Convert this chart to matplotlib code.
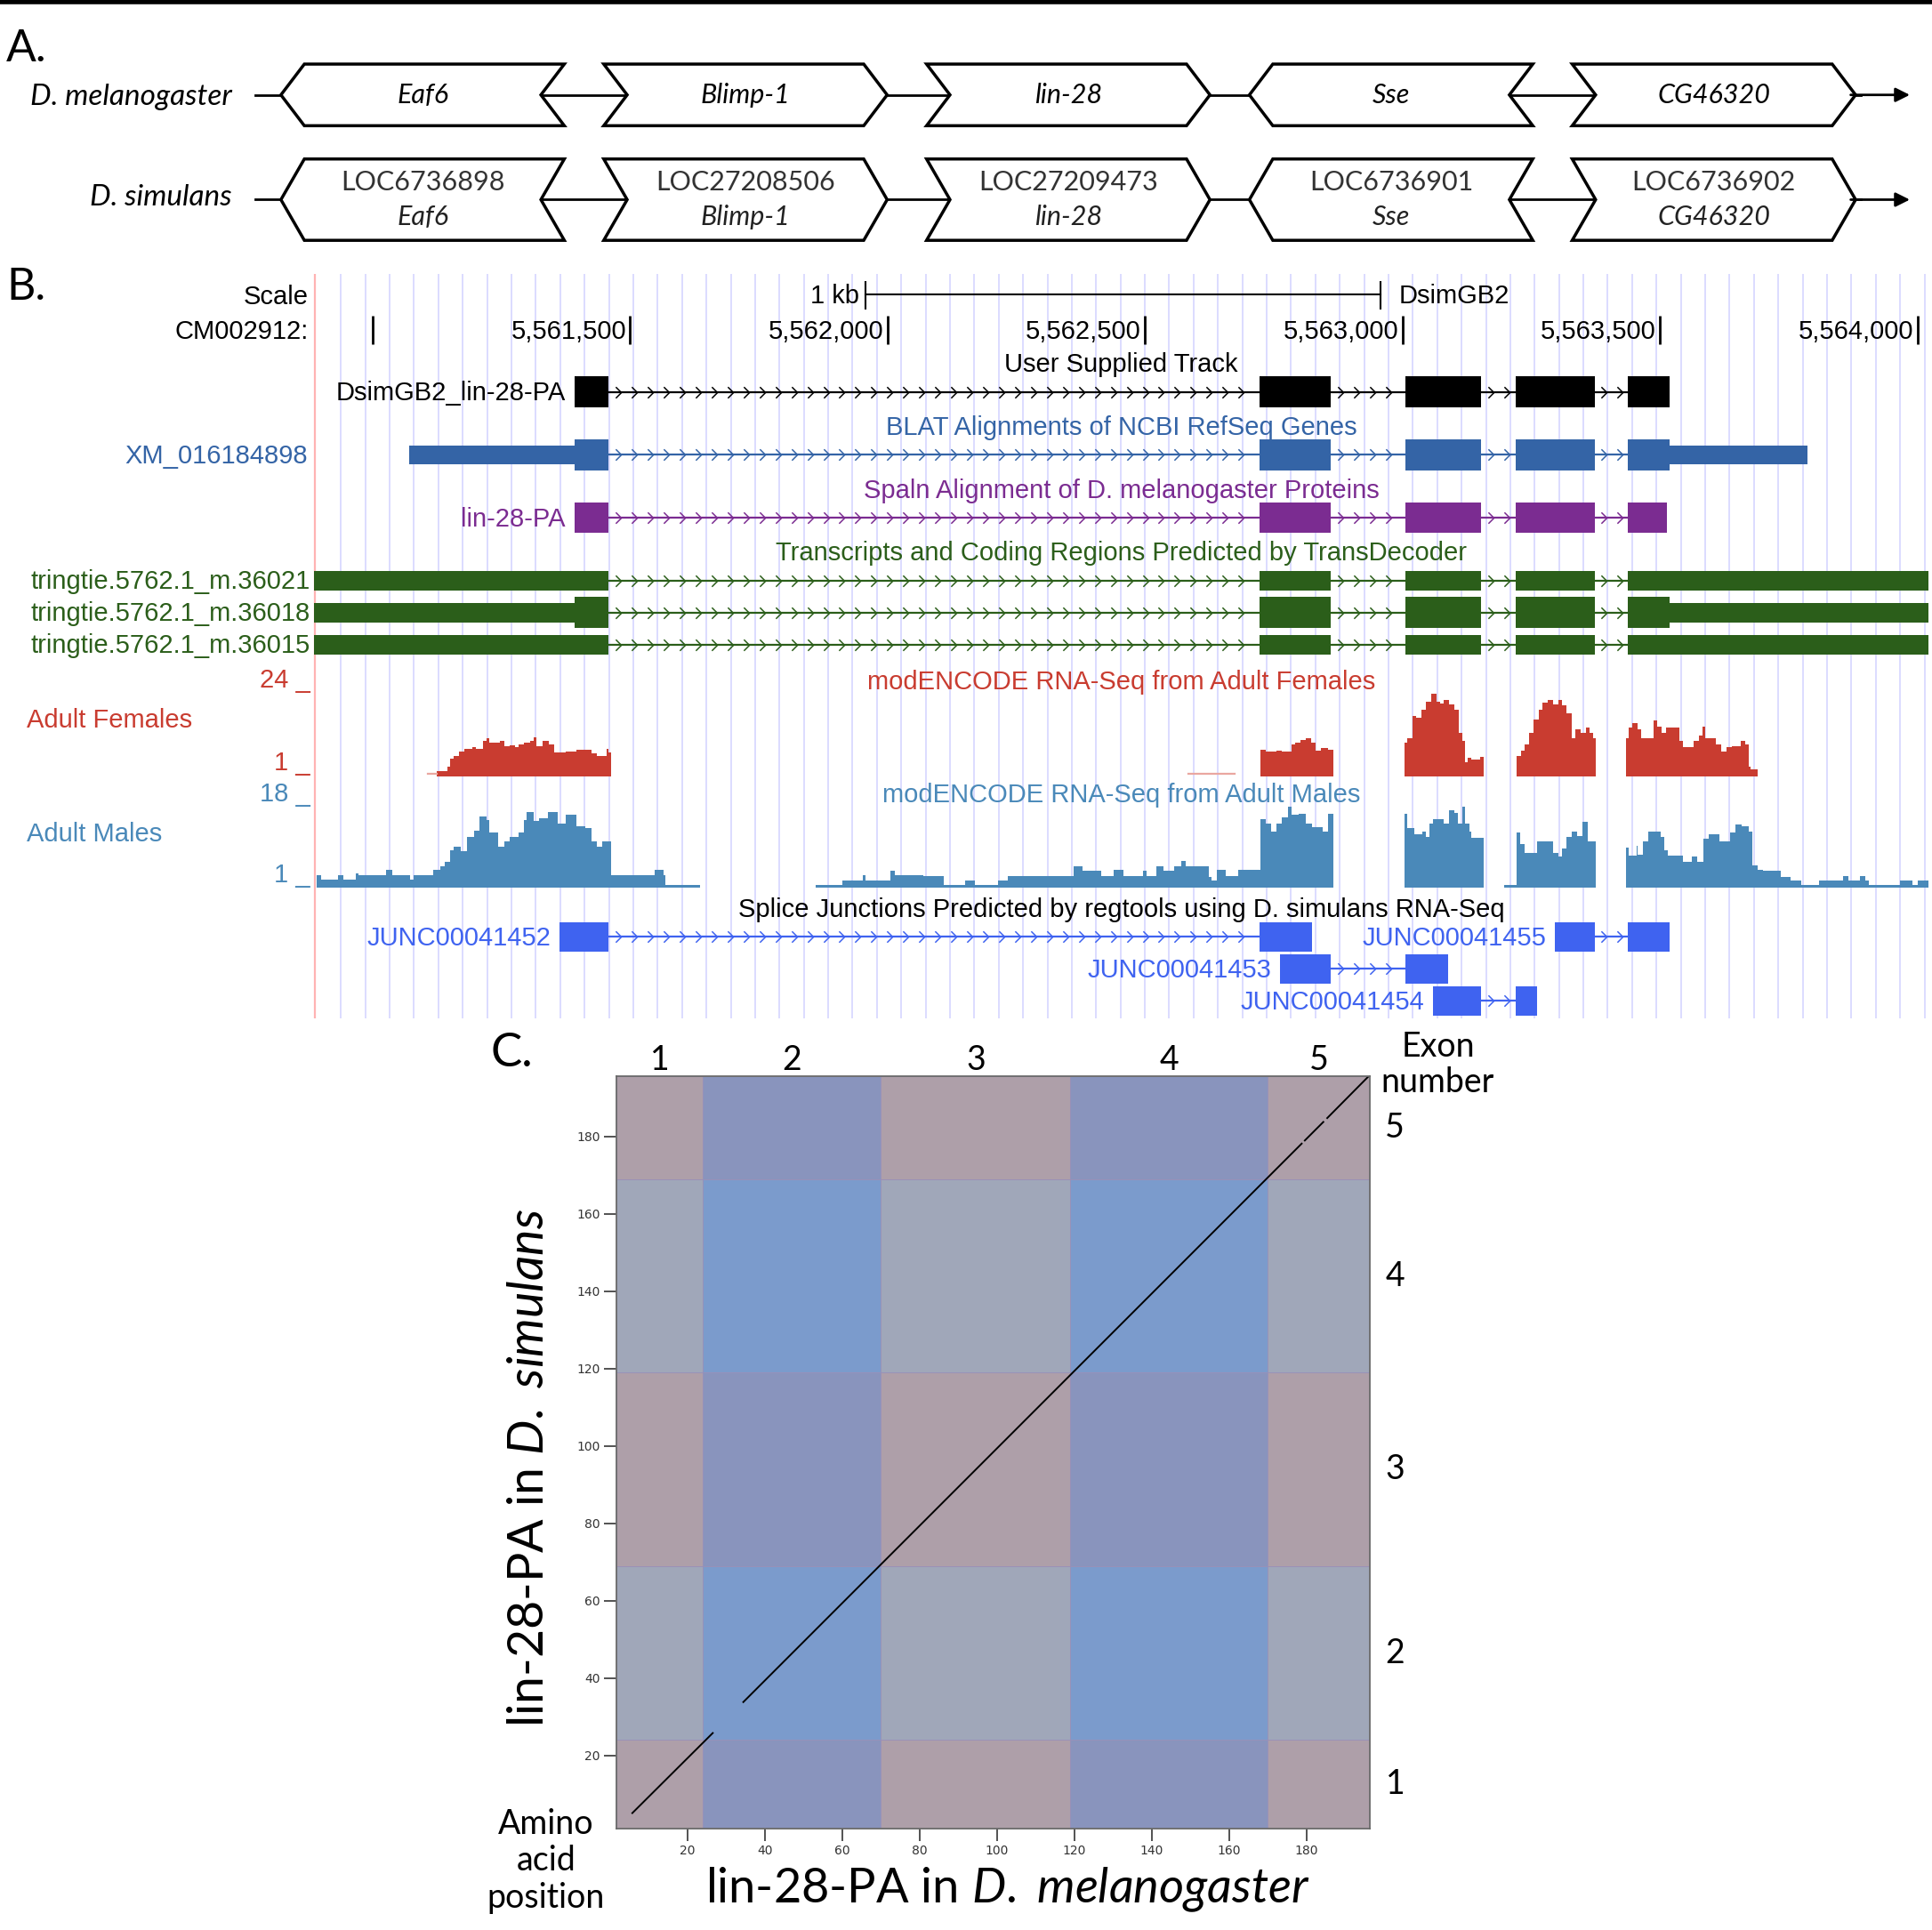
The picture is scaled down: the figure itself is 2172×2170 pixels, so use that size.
import numpy as np
import matplotlib
matplotlib.use('Agg')
import matplotlib.pyplot as plt
from matplotlib.patches import Polygon, Rectangle
from matplotlib.path import Path
from matplotlib.transforms import blended_transform_factory

plt.rcParams['mathtext.fontset'] = 'custom'
plt.rcParams['mathtext.rm'] = 'Lato'
plt.rcParams['mathtext.it'] = 'Lato:italic'

# ---------------- data ----------------
# panel A: gene neighbourhood
mel_genes = ['Eaf6', 'Blimp-1', 'lin-28', 'Sse', 'CG46320']
sim_loci = ['LOC6736898', 'LOC27208506', 'LOC27209473', 'LOC6736901', 'LOC6736902']
gene_strand = [-1, 1, 1, -1, 1]

# panel B: genome browser (positions on CM002912 minus 5,560,000)
OFFSET = 5560000
view = (887, 4021)
ruler_ticks = [1000, 1500, 2000, 2500, 3000, 3500, 4000]
ruler_labelled = [False, True, True, True, True, True, True]
scalebar_start, scalebar_len = 1957, 1000

exon_starts = [1392, 2722, 3005, 3220, 3438]
exon_ends = [1459, 2861, 3153, 3373, 3519]
spaln_ends = [1459, 2861, 3153, 3373, 3514]
xm_tx = (1072, 3787)
td_first_start, td_last_end = 800, 4100
cds = (1392, 3519)

junctions = ['JUNC00041452', 'JUNC00041453', 'JUNC00041454', 'JUNC00041455']
junc_blocks = [[(1364, 1459), (2722, 2825)],
               [(2763, 2861), (3005, 3088)],
               [(3060, 3153), (3220, 3261)],
               [(3296, 3373), (3438, 3519)]]
junc_row = [0, 1, 2, 0]

# RNA-seq coverage, step edges and values
fem_edges = [
    [1125, 1145, 1151, 1158, 1168, 1178, 1194, 1201, 1214, 1221, 1227, 1237, 1247, 1257, 1267, 1277,
     1284, 1294, 1307, 1313, 1318, 1331, 1343, 1353, 1376, 1396, 1426, 1436, 1454, 1459, 1464],
    [2724, 2734, 2755, 2765, 2785, 2792, 2802, 2812, 2822, 2832, 2842, 2855, 2865],
    [3004, 3009, 3019, 3026, 3036, 3046, 3056, 3066, 3073, 3080, 3090, 3100, 3110, 3117, 3122, 3127,
     3134, 3151, 3157],
    [3221, 3231, 3238, 3245, 3255, 3265, 3272, 3282, 3292, 3302, 3309, 3319, 3329, 3336, 3346, 3356,
     3363, 3370, 3375],
    [3434, 3440, 3447, 3457, 3464, 3488, 3494, 3504, 3511, 3521, 3538, 3545, 3565, 3575, 3582, 3587,
     3609, 3619, 3629, 3639, 3656, 3666, 3673, 3676, 3690]]
fem_vals = [
    [1.4, 2.5, 4.4, 5.1, 6.2, 7.0, 7.4, 7.0, 8.9, 9.6, 8.5, 8.6, 8.9, 7.7, 7.9, 7.4, 8.1, 8.5, 8.9,
     10.0, 7.7, 8.9, 8.1, 6.1, 6.2, 6.8, 5.9, 5.1, 7.0, 6.1],
    [6.8, 6.2, 6.6, 6.2, 8.1, 8.5, 9.2, 9.6, 8.5, 6.6, 7.1, 6.8],
    [8.5, 9.6, 15.3, 14.9, 16.8, 19.0, 20.9, 19.0, 18.4, 19.4, 18.3, 16.8, 11.1, 8.9, 3.6, 4.7, 4.2, 5.0],
    [5.1, 6.6, 8.1, 11.1, 14.5, 16.8, 18.6, 19.4, 18.3, 19.4, 17.9, 16.0, 9.6, 11.9, 11.1, 12.3, 11.1, 9.6],
    [9.6, 12.3, 13.4, 11.9, 9.6, 14.1, 12.6, 11.1, 12.3, 12.4, 8.9, 7.4, 8.9, 10.4, 12.6, 9.6, 8.1,
     6.2, 7.4, 7.7, 8.9, 8.1, 2.5, 1.7]]
fem_faint = [(1107, 1125), (2585, 2675)]

male_edges = [
    [892, 900, 933, 943, 968, 973, 1026, 1038, 1073, 1080, 1118, 1132, 1141, 1151, 1158, 1171, 1184,
     1198, 1208, 1221, 1227, 1244, 1257, 1267, 1284, 1294, 1300, 1313, 1323, 1340, 1360, 1376, 1396,
     1413, 1426, 1436, 1446, 1464, 1548, 1565, 1568, 1637],
    [1860, 1912, 1952, 1958, 2005, 2015, 2069, 2110, 2150, 2170, 2214, 2234, 2362, 2378, 2415, 2439,
     2459, 2496, 2503, 2523, 2536, 2556, 2570, 2580, 2624, 2630, 2640, 2657, 2681, 2724, 2734, 2745,
     2755, 2765, 2778, 2785, 2798, 2812, 2825, 2845, 2855, 2865],
    [3004, 3009, 3023, 3039, 3046, 3053, 3060, 3080, 3090, 3100, 3107, 3117, 3122, 3130, 3134, 3157],
    [3198, 3221, 3228, 3238, 3262, 3292, 3302, 3309, 3319, 3329, 3339, 3349, 3360, 3375],
    [3434, 3440, 3454, 3457, 3467, 3478, 3491, 3501, 3508, 3515, 3545, 3562, 3572, 3585, 3595, 3616,
     3636, 3646, 3659, 3673, 3680, 3690, 3700, 3734, 3754, 3774, 3808, 3855, 3865, 3889, 3899, 3905,
     3966, 3990, 4000, 4023]]
male_vals = [
    [2.4, 1.6, 2.5, 1.6, 2.8, 2.4, 3.6, 2.4, 1.6, 2.4, 3.6, 4.3, 5.2, 7.6, 8.2, 7.3, 10.3, 11.5, 14.3,
     13.7, 11.1, 8.2, 9.4, 10.3, 11.1, 13.7, 15.2, 13.4, 14.0, 15.2, 13.0, 14.8, 12.4, 12.1, 9.4, 8.2,
     9.4, 2.4, 3.6, 2.4, 0.4],
    [0.4, 1.4, 2.5, 1.4, 3.3, 2.5, 2.3, 0.4, 1.4, 0.4, 1.4, 2.3, 4.3, 3.4, 2.3, 3.5, 2.3, 3.3, 2.3, 4.3,
     3.4, 4.3, 5.4, 4.3, 2.1, 1.4, 3.5, 2.3, 3.5, 13.9, 13.0, 11.4, 13.0, 14.2, 16.3, 14.8, 15.0, 13.0,
     12.3, 11.4, 15.0],
    [15.0, 12.0, 10.8, 11.4, 10.2, 13.0, 13.9, 13.0, 15.7, 15.1, 13.0, 16.3, 13.0, 11.4, 10.1],
    [0.4, 11.1, 8.7, 7.0, 9.3, 7.0, 6.3, 7.8, 10.2, 11.4, 10.5, 13.3, 9.3],
    [8.1, 6.4, 8.4, 6.6, 9.3, 11.3, 11.4, 10.2, 7.5, 6.4, 5.1, 6.2, 5.1, 9.9, 10.8, 9.3, 11.1, 12.7,
     12.4, 11.4, 4.5, 3.6, 3.3, 2.1, 1.4, 0.4, 1.4, 2.3, 1.4, 2.3, 1.4, 0.4, 1.4, 0.4, 1.4]]
fem_max, male_max = 24, 18

# panel C: dot plot of lin-28-PA, amino acid positions
mel_len, sim_len = 196.5, 195.7
mel_exon_bounds = [24, 70, 119, 170]
sim_exon_bounds = [24, 69, 119, 169]
dot_x0 = [5.7, 34.4, 179.6, 185.4]
dot_x1 = [26.5, 178.8, 184.4, 196.0]
dot_y0 = [5.1, 33.8, 179.0, 184.8]
dot_y1 = [25.8, 178.2, 183.8, 195.5]

# ---------------- layout ----------------
W, H = 1568, 1566
UCSC = ['Liberation Sans', 'DejaVu Sans']
AVN = ['Lato', 'DejaVu Sans']


def frac_rect(x0, y0, x1, y1):
    return [x0 / W, 1 - y1 / H, (x1 - x0) / W, (y1 - y0) / H]


fig = plt.figure(figsize=(21.72, 21.70), dpi=100)
axF = fig.add_axes([0, 0, 1, 1], zorder=10)
axF.set_xlim(0, W)
axF.set_ylim(H, 0)
axF.axis('off')
axF.patch.set_alpha(0)

axF.plot([0, W], [1.5, 1.5], color='black', lw=4, solid_capstyle='butt')

# ---------------- panel A ----------------
axF.text(5, 40, 'A.', fontsize=36, family=AVN, va='center', ha='left')
row_y = [77, 162]
row_half = [25, 33]
notch = 19
for r in range(2):
    y = row_y[r]
    axF.plot([207, 1510], [y, y], color='black', lw=2, zorder=1)
    axF.annotate('', xy=(1552, y), xytext=(1500, y),
                 arrowprops=dict(arrowstyle='-|>', lw=2, color='black', mutation_scale=24))
    for i, g in enumerate(mel_genes):
        L = 228 + i * 262
        R = L + 230
        top, bot = y - row_half[r], y + row_half[r]
        if gene_strand[i] > 0:
            verts = [(L, top), (R - notch, top), (R, y), (R - notch, bot), (L, bot), (L + notch, y)]
        else:
            verts = [(L + notch, top), (R, top), (R - notch, y), (R, bot), (L + notch, bot), (L, y)]
        axF.add_patch(Polygon(verts, closed=True, facecolor='white', edgecolor='black', lw=2.5, zorder=2))
        cx = (L + R) / 2
        if r == 0:
            axF.text(cx, y, g, fontsize=22, family=AVN, style='italic', ha='center', va='center', zorder=3)
        else:
            axF.text(cx, y - 14, sim_loci[i], fontsize=22, family=AVN, ha='center', va='center',
                     color='#333333', zorder=3)
            axF.text(cx, y + 14, g, fontsize=22, family=AVN, style='italic', ha='center', va='center',
                     color='#222222', zorder=3)
axF.text(188, 79, 'D. melanogaster', fontsize=24, family=AVN, style='italic', ha='right', va='center')
axF.text(188, 160, 'D. simulans', fontsize=24, family=AVN, style='italic', ha='right', va='center')

# ---------------- panel B ----------------
C_BLACK = 'black'
C_XM = '#3464a6'
C_SPALN = '#7b2c91'
C_TD = '#2b5e1a'
C_FEM = '#c93c30'
C_MALE = '#4a89b9'
C_JUNC = '#3f63f0'

axF.text(5, 233, 'B.', fontsize=36, family=AVN, va='center', ha='left')

axB = fig.add_axes(frac_rect(255, 222, 1565, 826), zorder=1)
axB.set_xlim(*view)
axB.set_ylim(826, 222)
axB.axis('off')
axB.patch.set_alpha(0)

guides = np.arange(939, view[1], 47.3)
axB.vlines(guides, 222, 826, color='#d9d9ff', lw=1.3, zorder=0)
axB.vlines([view[0] + 1], 222, 826, color='#ffb3b3', lw=1.6, zorder=0, clip_on=False)


def ucsc(x, y, s, color='black', ha='right', size=21):
    axF.text(x, y + 7, s, ha=ha, va='baseline', color=color, fontsize=size, family=UCSC)


def feat_label(x, y, s, color):
    axB.annotate(s, xy=(x, y), xytext=(-7, -7), textcoords='offset points', ha='right',
                 va='baseline', color=color, fontsize=21, family=UCSC)


# scale bar and ruler
ucsc(250, 240, 'Scale')
ucsc(250, 268, 'CM002912:')
sb_end = scalebar_start + scalebar_len
axB.plot([scalebar_start, sb_end], [239, 239], color='black', lw=1.5)
axB.vlines([scalebar_start, sb_end], 228, 251, color='black', lw=1.5)
axB.annotate('1 kb', xy=(scalebar_start, 239), xytext=(-5, -7), textcoords='offset points',
             ha='right', va='baseline', fontsize=21, family=UCSC)
axB.annotate('DsimGB2', xy=(sb_end, 239), xytext=(15, -7), textcoords='offset points',
             ha='left', va='baseline', fontsize=21, family=UCSC)
axB.vlines(ruler_ticks, 256, 279, color='black', lw=2)
for t, lab in zip(ruler_ticks, ruler_labelled):
    if lab:
        axB.annotate(f'{t + OFFSET:,}', xy=(t, 268), xytext=(-3, -7), textcoords='offset points',
                     ha='right', va='baseline', fontsize=21, family=UCSC)

chev = Path([(-0.5, 1), (0.5, 0), (-0.5, -1)], [Path.MOVETO, Path.LINETO, Path.LINETO])


def intron(y, a, b, color, step=31, ms=9):
    axB.plot([a, b], [y, y], color=color, lw=1.6, zorder=2)
    xs = np.arange(a + step * 0.6, b - step * 0.3, step)
    axB.plot(xs, np.full(len(xs), y), ls='none', marker=chev, ms=ms, mfc='none', mec=color,
             mew=1.1, zorder=2)


def transcript(y, starts, ends, color, thick=None, hthick=25, hthin=15):
    for a, b in zip(ends[:-1], starts[1:]):
        intron(y, a, b, color)
    for a, b in zip(starts, ends):
        axB.add_patch(Rectangle((a, y - hthin / 2), b - a, hthin, color=color, lw=0, zorder=3))
        if thick is not None:
            ta, tb = max(a, thick[0]), min(b, thick[1])
            if tb > ta:
                axB.add_patch(Rectangle((ta, y - hthick / 2), tb - ta, hthick, color=color, lw=0, zorder=3))


titles = [(295, 'User Supplied Track', C_BLACK),
          (346, 'BLAT Alignments of NCBI RefSeq Genes', C_XM),
          (397, 'Spaln Alignment of D. melanogaster Proteins', C_SPALN),
          (448, 'Transcripts and Coding Regions Predicted by TransDecoder', C_TD),
          (552, 'modENCODE RNA-Seq from Adult Females', C_FEM),
          (644, 'modENCODE RNA-Seq from Adult Males', C_MALE),
          (737, 'Splice Junctions Predicted by regtools using D. simulans RNA-Seq', C_BLACK)]
for y, s, c in titles:
    ucsc(910, y, s, color=c, ha='center')

# user supplied track
transcript(318, exon_starts, exon_ends, C_BLACK, thick=cds)
feat_label(exon_starts[0], 318, 'DsimGB2_lin-28-PA', C_BLACK)
# RefSeq BLAT
xm_starts = [xm_tx[0]] + exon_starts[1:]
xm_ends = exon_ends[:-1] + [xm_tx[1]]
transcript(369, xm_starts, xm_ends, C_XM, thick=cds)
ucsc(250, 369, 'XM_016184898', color=C_XM)
# Spaln
transcript(420, exon_starts, spaln_ends, C_SPALN, thick=cds)
feat_label(exon_starts[0], 420, 'lin-28-PA', C_SPALN)
# TransDecoder
td_starts = [td_first_start] + exon_starts[1:]
td_ends = exon_ends[:-1] + [td_last_end]
td_names = ['tringtie.5762.1_m.36021', 'tringtie.5762.1_m.36018', 'tringtie.5762.1_m.36015']
td_cds = [None, cds, None]
for k, (nm, th) in enumerate(zip(td_names, td_cds)):
    yy = 471 + 26 * k
    transcript(yy, td_starts, td_ends, C_TD, thick=th, hthick=25, hthin=16)
    ucsc(252, yy, nm, color=C_TD)

# RNA-seq tracks
axFem = fig.add_axes(frac_rect(255, 553, 1565, 630), zorder=2)
axMale = fig.add_axes(frac_rect(255, 648, 1565, 720), zorder=2)
for ax, edges, vals, top, col in [(axFem, fem_edges, fem_vals, fem_max, C_FEM),
                                  (axMale, male_edges, male_vals, male_max, C_MALE)]:
    ax.set_xlim(*view)
    ax.set_ylim(0, top)
    ax.axis('off')
    ax.patch.set_alpha(0)
    for e, v in zip(edges, vals):
        ax.stairs(v, e, fill=True, baseline=0, color=col, lw=0)
for a, b in fem_faint:
    axFem.plot([a, b], [0.7, 0.7], color='#eaa7a0', lw=1.6)

ucsc(252, 551, '24 _', color=C_FEM)
ucsc(22, 583, 'Adult Females', color=C_FEM, ha='left')
ucsc(252, 618, '1 _', color=C_FEM)
ucsc(252, 643, '18 _', color=C_MALE)
ucsc(22, 676, 'Adult Males', color=C_MALE, ha='left')
ucsc(252, 709, '1 _', color=C_MALE)

# splice junctions
for nm, blocks, row in zip(junctions, junc_blocks, junc_row):
    yy = 760 + 26 * row
    intron(yy, blocks[0][1], blocks[1][0], C_JUNC)
    for a, b in blocks:
        axB.add_patch(Rectangle((a, yy - 12), b - a, 24, color=C_JUNC, lw=0, zorder=3))
    feat_label(blocks[0][0], yy, nm, C_JUNC)

# ---------------- panel C ----------------
axF.text(398, 855, 'C.', fontsize=38, family=AVN, va='center', ha='left')
axC = fig.add_axes(frac_rect(500, 873, 1112, 1484), zorder=1)
axC.set_xlim(1.5, mel_len)
axC.set_ylim(1.0, sim_len)
xb = [1.5] + mel_exon_bounds + [mel_len]
yb = [1.0] + sim_exon_bounds + [sim_len]
cell_colors = {(0, 0): '#ae9fa9', (1, 0): '#8994bd', (0, 1): '#a0a7b9', (1, 1): '#7b9bcc'}
for i in range(len(xb) - 1):
    for j in range(len(yb) - 1):
        axC.add_patch(Rectangle((xb[i], yb[j]), xb[i + 1] - xb[i], yb[j + 1] - yb[j],
                                facecolor=cell_colors[(i % 2, j % 2)], edgecolor='#9890b8', lw=0.6,
                                zorder=0))
for a0, a1, b0, b1 in zip(dot_x0, dot_x1, dot_y0, dot_y1):
    axC.plot([a0, a1], [b0, b1], color='black', lw=1.4, zorder=2)
ticks = list(range(20, 181, 20))
axC.set_xticks(ticks)
axC.set_yticks(ticks)
axC.tick_params(direction='out', length=10, width=1.3, color='#444444', labelsize=10,
                labelcolor='#333333', pad=3)
for s in axC.spines.values():
    s.set_color('#6a6a6a')
    s.set_linewidth(1.3)

trX = blended_transform_factory(axC.transData, axC.transAxes)
trY = blended_transform_factory(axC.transAxes, axC.transData)
for k in range(len(xb) - 1):
    axC.text((xb[k] + xb[k + 1]) / 2, 1.008, str(k + 1), transform=trX, ha='center', va='baseline',
             fontsize=27, family=AVN)
for k in range(len(yb) - 1):
    axC.text(1.033, (yb[k] + yb[k + 1]) / 2, str(k + 1), transform=trY, ha='center', va='center',
             fontsize=27, family=AVN)
axF.text(1167, 864, 'Exon\nnumber', ha='center', va='center', fontsize=27, family=AVN, linespacing=1.15)
axF.text(443, 1510, 'Amino\nacid\nposition', ha='center', va='center', fontsize=27, family=AVN,
         linespacing=1.2)
axF.text(818, 1533, r'lin-28-PA in $\mathit{D.}$ $\mathit{melanogaster}$', ha='center', va='center',
         fontsize=39, family=AVN)
axF.text(430, 1191, r'lin-28-PA in $\mathit{D.}$ $\mathit{simulans}$', ha='center', va='center',
         rotation=90, fontsize=40, family=AVN)

fig.savefig('out.png', dpi=100)
